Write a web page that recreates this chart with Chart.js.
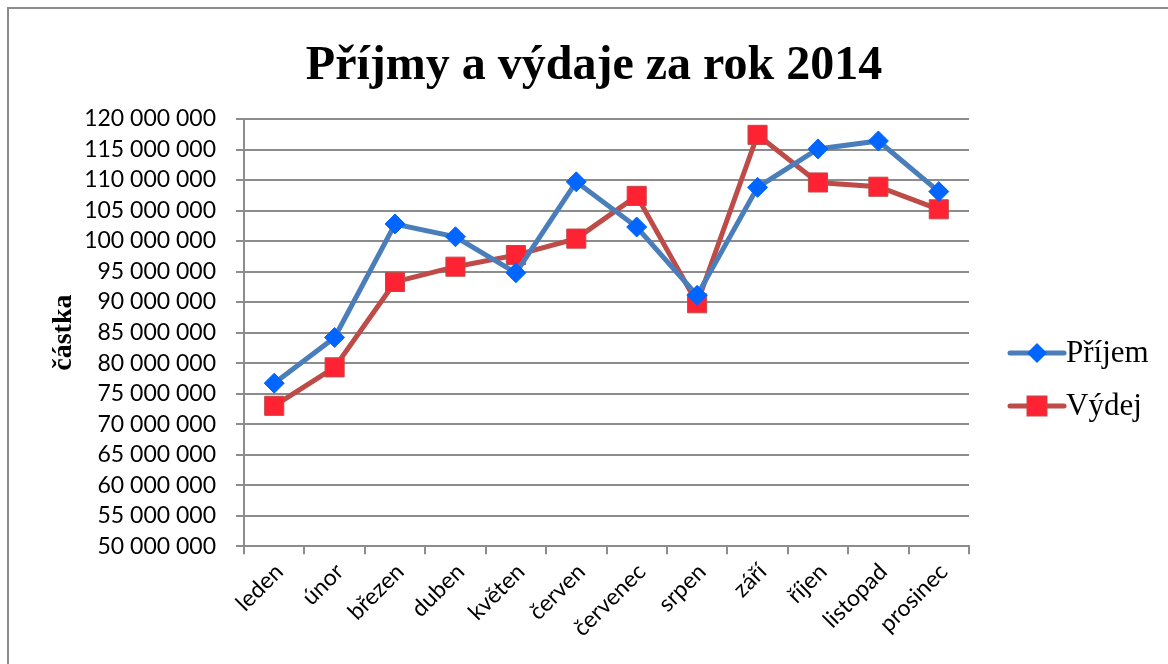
<!DOCTYPE html>
<html>
<head>
<meta charset="utf-8">
<script src="https://cdn.jsdelivr.net/npm/chart.js@4/dist/chart.umd.min.js"></script>
<style>
  body { margin: 0; background: #fff; }
</style>
</head>
<body>
<canvas id="chart" width="1168" height="664"></canvas>
<script>
// data
const months = ['leden', 'únor', 'březen', 'duben', 'květen', 'červen', 'červenec', 'srpen', 'září', 'říjen', 'listopad', 'prosinec'];
const prijem = [76700000, 84200000, 102800000, 100700000, 94800000, 109700000, 102300000, 91100000, 108800000, 115100000, 116400000, 108100000];
const vydaj = [73000000, 79300000, 93300000, 95800000, 97700000, 100400000, 107400000, 89800000, 117400000, 109600000, 108900000, 105200000];
const seriesNames = ['Příjem', 'Výdej'];
const chartTitle = 'Příjmy a výdaje za rok 2014';
const yTitle = 'částka';

const blueLine = '#4a7ebb', blueMark = '#0066ff';
const redLine = '#be4b48', redMark = '#ff2233';
const gridGray = '#8c8c8c';

// thousands with spaces, like "120 000 000"
const fmt = (v) => String(v).replace(/\B(?=(\d{3})+(?!\d))/g, ' ');

// frame, titles and the legend on the right (line with marker)
const decorPlugin = {
  id: 'decor',
  beforeDraw(chart) {
    const ctx = chart.ctx;
    ctx.save();
    ctx.strokeStyle = gridGray;
    ctx.lineWidth = 2;
    ctx.strokeRect(8, 8, 1200, 700);
    ctx.restore();
  },
  afterDraw(chart) {
    const ctx = chart.ctx;
    const area = chart.chartArea;
    ctx.save();
    ctx.fillStyle = '#000';
    ctx.font = 'bold 48px "Liberation Serif"';
    ctx.textAlign = 'center';
    ctx.textBaseline = 'alphabetic';
    ctx.fillText(chartTitle, 594, 79);

    // axis title, rotated
    ctx.save();
    ctx.translate(64, (area.top + area.bottom) / 2);
    ctx.rotate(-Math.PI / 2);
    ctx.font = 'bold 28px "Liberation Serif"';
    ctx.textBaseline = 'middle';
    ctx.fillText(yTitle, 0, 0);
    ctx.restore();

    const items = [
      { y: 353, line: blueLine, mark: blueMark, shape: 'diamond' },
      { y: 406, line: redLine, mark: redMark, shape: 'square' }
    ];
    items.forEach((it, i) => {
      ctx.strokeStyle = it.line;
      ctx.lineWidth = 5;
      ctx.lineCap = 'round';
      ctx.beginPath();
      ctx.moveTo(1010, it.y);
      ctx.lineTo(1064, it.y);
      ctx.stroke();
      ctx.fillStyle = it.mark;
      if (it.shape === 'diamond') {
        ctx.beginPath();
        ctx.moveTo(1037, it.y - 10);
        ctx.lineTo(1047, it.y);
        ctx.lineTo(1037, it.y + 10);
        ctx.lineTo(1027, it.y);
        ctx.closePath();
        ctx.fill();
      } else {
        ctx.fillRect(1027, it.y - 10, 20, 20);
        ctx.strokeStyle = redLine;
        ctx.lineWidth = 1;
        ctx.strokeRect(1027, it.y - 10, 20, 20);
      }
      ctx.fillStyle = '#000';
      ctx.font = '31px "Liberation Serif"';
      ctx.textAlign = 'left';
      ctx.textBaseline = 'middle';
      ctx.fillText(seriesNames[i], 1066, it.y + 1);
    });
    ctx.restore();
  }
};

new Chart(document.getElementById('chart'), {
  type: 'line',
  data: {
    labels: months,
    datasets: [
      {
        label: seriesNames[0],
        data: prijem,
        borderColor: blueLine,
        borderWidth: 5,
        pointStyle: 'rectRot',
        pointRadius: 10,
        pointBackgroundColor: blueMark,
        pointBorderColor: blueMark,
        pointBorderWidth: 1,
        tension: 0
      },
      {
        label: seriesNames[1],
        data: vydaj,
        borderColor: redLine,
        borderWidth: 5,
        pointStyle: 'rect',
        pointRadius: 13.5,
        pointBackgroundColor: redMark,
        pointBorderColor: redLine,
        pointBorderWidth: 1,
        tension: 0
      }
    ]
  },
  options: {
    responsive: false,
    animation: false,
    layout: { padding: { left: 83, right: 199, top: 119, bottom: 18 } },
    plugins: {
      legend: { display: false },
      tooltip: { enabled: false },
      title: { display: false }
    },
    scales: {
      x: {
        offset: true,
        grid: { display: true, drawOnChartArea: false, color: gridGray, lineWidth: 2, tickLength: 8, offset: true },
        border: { color: gridGray, width: 2 },
        ticks: {
          color: '#000',
          font: { family: 'Lato', size: 23 },
          minRotation: 45,
          maxRotation: 45,
          labelOffset: 5,
          padding: 4
        }
      },
      y: {
        min: 50000000,
        max: 120000000,
        afterFit: (scale) => { scale.width = 161; },
        grid: { color: gridGray, lineWidth: 2, tickLength: 8 },
        border: { color: gridGray, width: 2 },
        ticks: {
          stepSize: 5000000,
          autoSkip: false,
          color: '#000',
          font: { family: 'Lato', size: 23 },
          padding: 20,
          callback: (v) => fmt(v)
        }
      }
    }
  },
  plugins: [decorPlugin]
});
</script>
</body>
</html>
